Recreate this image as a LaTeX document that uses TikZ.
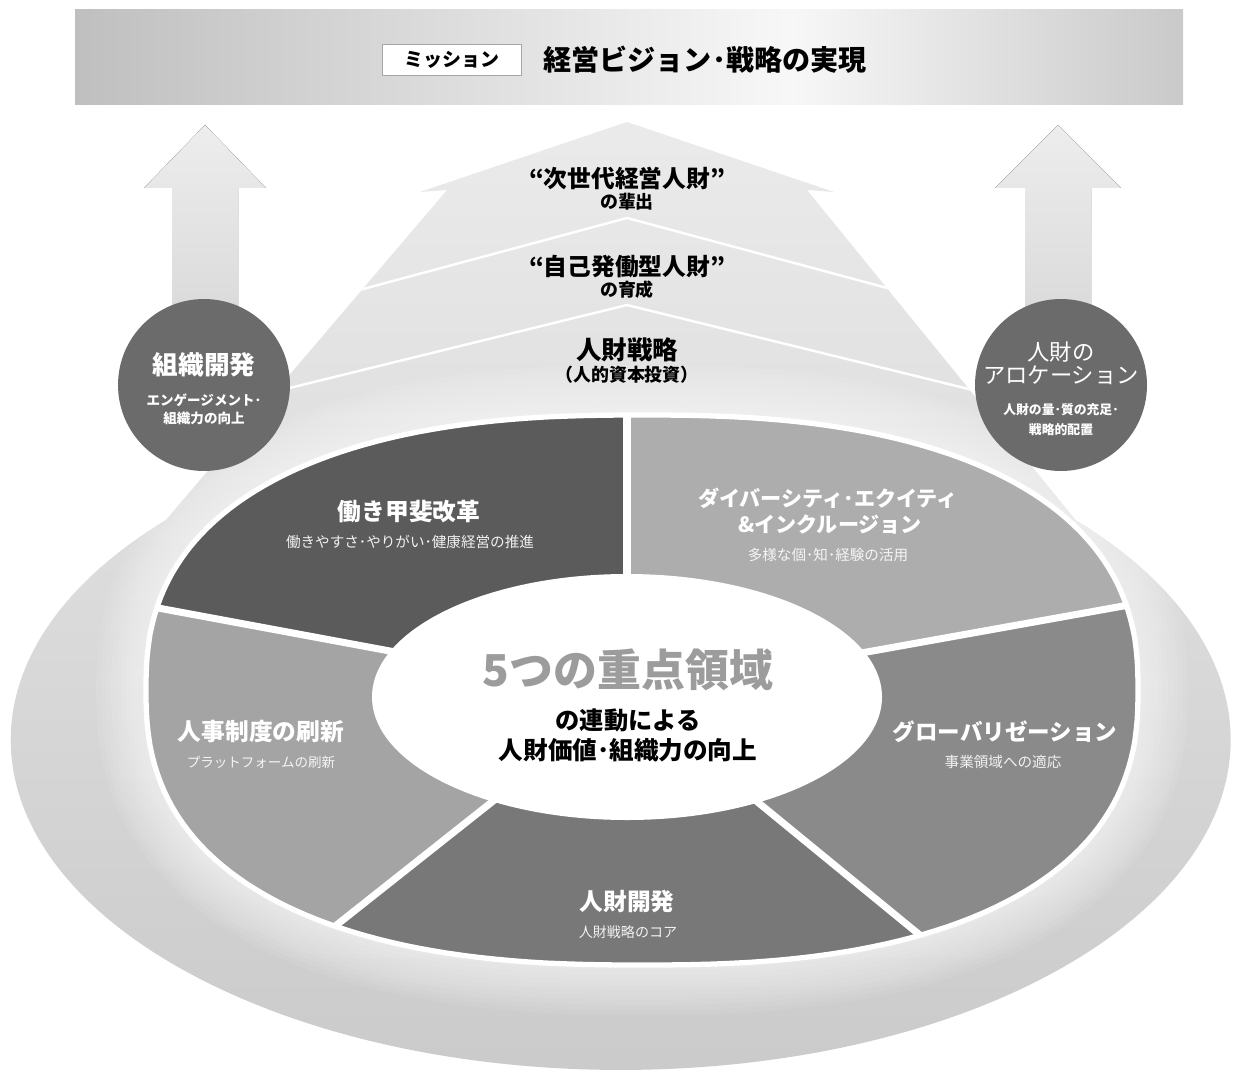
\documentclass[tikz,border=0pt]{standalone}
\usepackage{fontspec}
\setmainfont{Noto Sans CJK JP}
\usetikzlibrary{positioning}

\definecolor{workgray}{HTML}{5B5B5B}
\definecolor{deigray}{HTML}{ADADAD}
\definecolor{hrgray}{HTML}{A4A4A4}
\definecolor{globalgray}{HTML}{8A8A8A}
\definecolor{devgray}{HTML}{787878}
\definecolor{bubblegray}{HTML}{6B6B6B}
\definecolor{focusgray}{HTML}{9C9C9C}

% outline of the big arrow with its ring
\newcommand{\droppath}{(627,122) -- (420,192) -- (447,190) -- (166,520)
  arc[start angle=221.8, end angle=-41.8, x radius=610, y radius=330]
  -- (807,190) -- (834,192) -- cycle}
% rounded outline of the five areas
\newcommand{\ringpath}{plot[domain=0:360, samples=200]
  ({642+496*sign(cos(\x))*pow(abs(cos(\x)),0.82)},
   {690+275*sign(sin(\x))*pow(abs(sin(\x)),0.82)}) -- cycle}

\tikzset{
  hdr/.style={inner sep=0pt, font=\bfseries\fontsize{#1pt}{#1pt}\selectfont},
  lite/.style={inner sep=0pt, font=\fontsize{#1pt}{#1pt}\selectfont},
  missionbox/.style={draw=gray!70, line width=0.6pt, fill=white, inner sep=0pt,
    minimum width=2.78cm, minimum height=0.62cm,
    font=\bfseries\fontsize{10.8pt}{10.8pt}\selectfont},
  bubble/.style={circle, fill=bubblegray, inner sep=0pt, minimum size=3.44cm},
  sidearrow/.style={top color=gray!14, bottom color=gray!30},
  gap/.style={white, line width=4pt},
  chevron/.style={white, line width=1.4pt}
}

\begin{document}
\begin{tikzpicture}[x=0.02cm, y=-0.02cm]
	\useasboundingbox (0,0) rectangle (1233,1081);
	\fill[white] (0,0) rectangle (1233,1081);

	% banner
	\shade[left color=gray!50, right color=gray!6] (75,10) rectangle (791,105);
	\shade[left color=gray!6, right color=gray!42] (790,10) rectangle (1183,105);
	\node[missionbox] (mission) at (452,60) {ミッション};
	\node[hdr=16, anchor=west] (vision) at (543,60) {経営ビジョン･戦略の実現};

	% side arrows
	\fill[sidearrow] (205,125) -- (266,188) -- (238,188) -- (238,330)
		-- (172,330) -- (172,188) -- (144,188) -- cycle;
	\fill[sidearrow] (1058,125) -- (1121,188) -- (1091,188) -- (1091,330)
		-- (1025,330) -- (1025,188) -- (995,188) -- cycle;

	% big arrow and ring
	\shade[top color=gray!16, bottom color=gray!42] \droppath;
	\begin{scope}
		\clip \droppath;
		\foreach \w in {100,90,...,10}
			\draw[white, opacity=0.08, line width=\w*0.567pt] \ringpath;
		\draw[chevron] (300,306) -- (627,218) -- (954,306);
		\draw[chevron] (200,410) -- (627,305) -- (1054,410);
	\end{scope}

	% five focus areas
	\begin{scope}
		\clip \ringpath;
		\fill[workgray] (627,695) -- (-203,541) -- (-203,-100) -- (627,-100) -- cycle;
		\fill[deigray] (627,695) -- (627,-100) -- (1500,-100) -- (1497,539) -- cycle;
		\fill[globalgray] (627,695) -- (1497,539) -- (1500,1300) -- (1365,1300) -- cycle;
		\fill[devgray] (627,695) -- (1365,1300) -- (-137,1300) -- cycle;
		\fill[hrgray] (627,695) -- (-137,1300) -- (-203,1300) -- (-203,541) -- cycle;
		\foreach \fx/\fy in {627/-100, -203/541, -137/1300, 1365/1300, 1497/539}
			\draw[gap] (627,695) -- (\fx,\fy);
	\end{scope}
	\draw[white, line width=3pt] \ringpath;
	\fill[white] (627,697) ellipse [x radius=255, y radius=123];

	% circles
	\node[bubble] (orgcircle) at (204,385) {};
	\node[bubble] (alloccircle) at (1061,385) {};

	% arrow texts
	\node[hdr=13.5] (nextgen) at (627,178) {“次世代経営人財”};
	\node[hdr=10.2] (nextgensub) at (627,202) {の輩出};
	\node[hdr=13.5] (selfdev) at (627,267) {“自己発働型人財”};
	\node[hdr=10.2] (selfdevsub) at (627,290) {の育成};
	\node[hdr=14.5] (strategy) at (627,350) {人財戦略};
	\node[hdr=10.2] (strategysub) at (627,375) {（人的資本投資）};

	% circle texts
	\node[hdr=14.6, white] (orgdev) at (204,365) {組織開発};
	\node[hdr=7.7, white] (orgdevsub) at (204,400) {エンゲージメント･};
	\node[hdr=7.7, white] (orgdevsubb) at (204,418) {組織力の向上};
	\node[lite=12.7, white] (alloc) at (1061,352) {人財の};
	\node[lite=12.7, white] (allocb) at (1061,375) {アロケーション};
	\node[hdr=7.3, white] (allocsub) at (1061,410) {人財の量･質の充足･};
	\node[hdr=7.3, white] (allocsubb) at (1061,430) {戦略的配置};

	% segment texts
	\node[hdr=13.5, white] (work) at (409,512) {働き甲斐改革};
	\node[lite=8.3, gray!12] (worksub) at (410,542) {働きやすさ･やりがい･健康経営の推進};
	\node[hdr=12, white] (dei) at (828,498) {ダイバーシティ･エクイティ};
	\node[hdr=12, white] (deib) at (830,525) {\&インクルージョン};
	\node[lite=8.3, gray!8] (deisub) at (828,555) {多様な個･知･経験の活用};
	\node[hdr=13.5, white] (hr) at (261,732) {人事制度の刷新};
	\node[lite=7.7, gray!8] (hrsub) at (261,762) {プラットフォームの刷新};
	\node[hdr=12.8, white] (global) at (1005,732) {グローバリゼーション};
	\node[lite=8.3, gray!10] (globalsub) at (1003,762) {事業領域への適応};
	\node[hdr=13.5, white] (dev) at (627,902) {人財開発};
	\node[lite=8, gray!10] (devsub) at (628,932) {人財戦略のコア};

	% centre
	\node[hdr=25, focusgray] (focus) at (628,670) {5つの重点領域};
	\node[hdr=13.8] (linked) at (628,720) {の連動による};
	\node[hdr=14] (value) at (628,750) {人財価値･組織力の向上};
\end{tikzpicture}
\end{document}
